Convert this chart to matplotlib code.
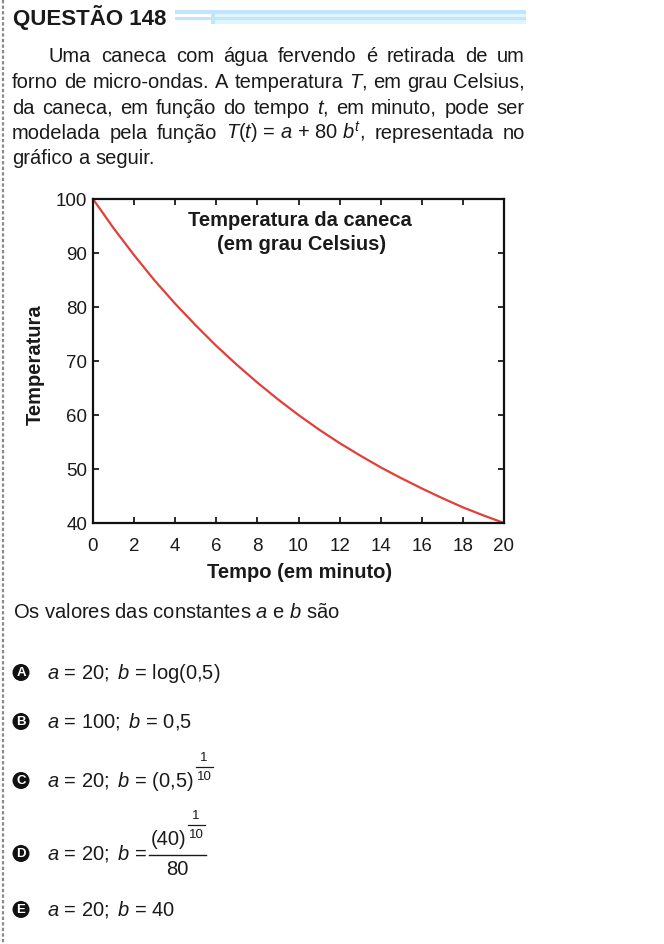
import matplotlib
matplotlib.use("Agg")
import matplotlib.pyplot as plt
from matplotlib.patches import Rectangle, Circle

# ---------------- data ----------------
minutes = [0, 1, 2, 3, 4, 5, 6, 7, 8, 9, 10, 11, 12, 13, 14, 15, 16, 17, 18, 19, 20]
temperatures = [100.0, 94.6, 89.6, 84.9, 80.6, 76.6, 72.8, 69.3, 66.0, 62.9, 60.0,
                57.3, 54.8, 52.5, 50.3, 48.3, 46.4, 44.6, 42.9, 41.4, 40.0]
x_ticks = [0, 2, 4, 6, 8, 10, 12, 14, 16, 18, 20]
y_ticks = [40, 50, 60, 70, 80, 90, 100]
chart_title = ["Temperatura da caneca", "(em grau Celsius)"]
x_label = "Tempo (em minuto)"
y_label = "Temperatura"
header = "QUESTÃO 148"
body_lines = [
    "Uma caneca com água fervendo é retirada de um",
    "forno de micro-ondas. A temperatura $T$, em grau Celsius,",
    "da caneca, em função do tempo $t$, em minuto, pode ser",
    "modelada pela função $T(t)$~=~$a$~+~80~$b^t$, representada no",
    "gráfico a seguir.",
]
question = "Os valores das constantes $a$ e $b$ são"
option_letters = ["A", "B", "C", "D", "E"]
option_main = [
    r"$a$ = 20; $\,b$ = log(0,5)",
    r"$a$ = 100; $\,b$ = 0,5",
    r"$a$ = 20; $\,b$ = (0,5)",
    r"$a$ = 20; $\,b$ =",
    r"$a$ = 20; $\,b$ = 40",
]
exp_num, exp_den = "1", "10"
frac_base, frac_den = "(40)", "80"

# ---------------- style ----------------
plt.rcParams['font.family'] = ['Liberation Sans', 'DejaVu Sans']
plt.rcParams['mathtext.fontset'] = 'custom'
plt.rcParams['mathtext.rm'] = 'Liberation Sans'
plt.rcParams['mathtext.it'] = 'Liberation Sans:italic'
plt.rcParams['mathtext.bf'] = 'Liberation Sans:bold'

INK = '#1a1a1a'
W, H = 664, 944
fig = plt.figure(figsize=(W / 100, H / 100), dpi=100)
fig.patch.set_facecolor('white')

ov = fig.add_axes([0, 0, 1, 1])
ov.set_xlim(0, W)
ov.set_ylim(H, 0)
ov.axis('off')
renderer = fig.canvas.get_renderer()


def width_of(artist):
    return artist.get_window_extent(renderer).width


# dashed left border
ov.plot([3, 3], [0, H], color='#8a8a8a', lw=1.6, dashes=(1.5, 1.0))

# header
ov.text(13, 24.5, header, fontsize=16, fontweight='bold', color=INK,
        va='baseline', ha='left')
blue = '#bfe7f9'
light = '#e2f4fc'
ov.add_patch(Rectangle((175, 10), 351, 4, color=blue, lw=0))
ov.add_patch(Rectangle((215, 14), 311, 3, color=light, lw=0))
ov.add_patch(Rectangle((175, 17), 351, 3, color=blue, lw=0))
ov.add_patch(Rectangle((215, 20), 311, 4, color=light, lw=0))
ov.add_patch(Rectangle((211, 14), 4, 10, color=blue, lw=0))

# justified body text
FS = 14.5
baselines = [62.5, 88, 113.5, 139, 164]
x_left, x_right, indent = 12, 525, 49


def place_line(text, x0, x1, y, justify=True):
    tokens = [t.replace('~', ' ') for t in text.split(' ')]
    arts = [ov.text(0, y, tok, fontsize=FS, va='baseline', ha='left', color=INK)
            for tok in tokens]
    widths = [width_of(a) for a in arts]
    if justify and len(tokens) > 1:
        gap = (x1 - x0 - sum(widths)) / (len(tokens) - 1)
    else:
        gap = FS * 1.389 * 0.278
    x = x0
    for a, w in zip(arts, widths):
        a.set_x(x)
        x += w + gap


for i, (line, y) in enumerate(zip(body_lines, baselines)):
    x0 = indent if i == 0 else x_left
    place_line(line, x0, x_right, y, justify=(i < len(body_lines) - 1))

# question
ov.text(13, 618, question, fontsize=FS, va='baseline', ha='left', color=INK)

# options
OFS = 14.5
EFS = 9.5
opt_baselines = [679, 728, 787, 860, 916]


def exponent(x0, yb):
    """stacked 1/10 exponent; returns right edge"""
    bar_y = yb - 20
    den = ov.text(x0 + 1, bar_y + 9.5, exp_den, fontsize=EFS, ha='left',
                  va='center', color=INK)
    wd = width_of(den)
    ov.text(x0 + 1 + wd / 2, bar_y - 9, exp_num, fontsize=EFS, ha='center',
            va='center', color=INK)
    ov.plot([x0, x0 + wd + 2], [bar_y, bar_y], color=INK, lw=0.9)
    return x0 + wd + 2


for k, (letter, txt, yb) in enumerate(zip(option_letters, option_main, opt_baselines)):
    cy = yb - 6.5
    ov.add_patch(Circle((21, cy), 8.5, color='#111111', lw=0))
    ov.text(21, cy + 0.6, letter, fontsize=9.5, fontweight='bold', color='white',
            ha='center', va='center')
    main = ov.text(47, yb, txt, fontsize=OFS, va='baseline', ha='left', color=INK)
    x_end = 47 + width_of(main)
    if k == 2:
        exponent(x_end + 2, yb)
    if k == 3:
        xs = x_end + 2
        num_y = yb - 15
        num = ov.text(xs + 2, num_y, frac_base, fontsize=OFS, va='baseline',
                      ha='left', color=INK)
        xr = exponent(xs + 2 + width_of(num) + 1, num_y)
        bar_end = xr + 1
        ov.plot([xs, bar_end], [yb - 5, yb - 5], color=INK, lw=1.0)
        ov.text((xs + bar_end) / 2, yb + 15, frac_den, fontsize=OFS,
                va='baseline', ha='center', color=INK)

# ---------------- chart ----------------
L, R, T, B = 93, 504, 199, 523
ax = fig.add_axes([L / W, 1 - B / H, (R - L) / W, (B - T) / H])
ax.plot(minutes, temperatures, color='#e0403a', lw=1.6, solid_capstyle='round')
ax.set_xlim(0, 20)
ax.set_ylim(40, 100)
ax.set_xticks(x_ticks)
ax.set_yticks(y_ticks)
ax.tick_params(direction='in', length=4, width=1.3, top=True, right=True,
               labelsize=13.5, colors=INK)
ax.tick_params(axis='x', pad=10.5)
ax.tick_params(axis='y', pad=4)
for s in ax.spines.values():
    s.set_linewidth(1.6)
    s.set_color('#111111')
ax.set_facecolor('none')

LFS = 14.5
ov.text(300, 226, chart_title[0], fontsize=LFS, fontweight='bold',
        ha='center', va='baseline', color=INK)
ov.text(302, 250, chart_title[1], fontsize=LFS, fontweight='bold',
        ha='center', va='baseline', color=INK)
ov.text(300, 578, x_label, fontsize=LFS, fontweight='bold', ha='center',
        va='baseline', color=INK)
ov.text(35, 365, y_label, fontsize=LFS, fontweight='bold', rotation=90,
        ha='center', va='center', color=INK)

fig.savefig('out.png', dpi=100)
